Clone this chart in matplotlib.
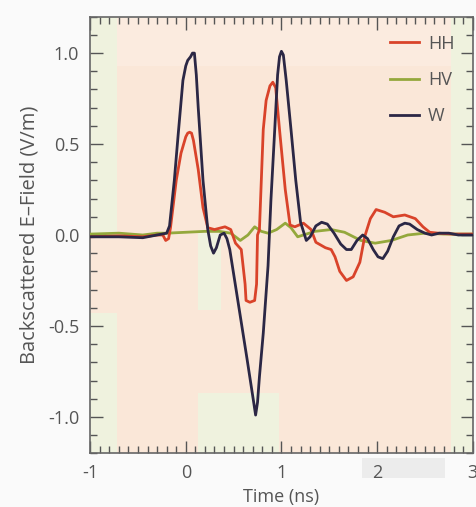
import matplotlib.pyplot as plt
from matplotlib.patches import Rectangle

# time axis (ns) and backscattered field (V/m)
w_t = [-1.0, -0.7, -0.45, -0.3, -0.2, -0.17, -0.12, -0.08, -0.03, 0.0, 0.02, 0.05, 0.07,
       0.09, 0.11, 0.13, 0.18, 0.23, 0.26, 0.29, 0.32, 0.36, 0.40, 0.43, 0.46, 0.55, 0.64,
       0.71, 0.73, 0.75, 0.77, 0.81, 0.86, 0.89, 0.93, 0.96, 0.98, 1.0, 1.02, 1.05, 1.10,
       1.15, 1.20, 1.26, 1.30, 1.36, 1.42, 1.48, 1.55, 1.62, 1.68, 1.73, 1.79, 1.85, 1.90,
       1.96, 2.01, 2.06, 2.11, 2.17, 2.23, 2.29, 2.34, 2.42, 2.50, 2.57, 2.65, 2.75, 2.85,
       3.0]
w_v = [-0.01, -0.01, -0.015, 0.0, 0.01, 0.05, 0.30, 0.55, 0.85, 0.93, 0.96, 0.98, 1.0,
       1.0, 0.88, 0.70, 0.30, 0.03, -0.06, -0.10, -0.07, 0.0, 0.01, -0.02, -0.08, -0.38, -0.68,
       -0.92, -0.99, -0.92, -0.78, -0.54, -0.17, 0.19, 0.58, 0.88, 0.98, 1.01, 0.99, 0.85, 0.58,
       0.30, 0.07, -0.03, -0.01, 0.05, 0.07, 0.06, 0.01, -0.05, -0.08, -0.08, -0.03, 0.0, -0.02,
       -0.08, -0.12, -0.13, -0.09, -0.01, 0.05, 0.065, 0.06, 0.03, 0.01, 0.0, 0.01, 0.01, 0.0,
       0.0]

hh_t = [-1.0, -0.7, -0.45, -0.3, -0.24, -0.21, -0.18, -0.16, -0.10, -0.05, 0.0, 0.02,
        0.04, 0.06, 0.08, 0.13, 0.18, 0.23, 0.30, 0.41, 0.47, 0.52, 0.58, 0.62, 0.63, 0.67,
        0.72, 0.74, 0.75, 0.77, 0.81, 0.84, 0.88, 0.91, 0.94, 0.98, 1.04, 1.09, 1.14, 1.23,
        1.31, 1.36, 1.46, 1.52, 1.56, 1.61, 1.68, 1.75, 1.82, 1.87, 1.93, 1.99, 2.08, 2.17,
        2.29, 2.40, 2.48, 2.55, 2.64, 2.8, 3.0]
hh_v = [-0.01, -0.005, -0.01, 0.0, 0.0, -0.03, -0.02, 0.04, 0.30, 0.45, 0.54, 0.56,
        0.565, 0.56, 0.52, 0.36, 0.15, 0.04, 0.03, 0.045, 0.03, -0.045, -0.08, -0.27, -0.36, -0.37,
        -0.36, -0.27, 0.0, 0.03, 0.58, 0.74, 0.82, 0.84, 0.81, 0.58, 0.25, 0.055, 0.045, 0.065,
        0.03, -0.04, -0.07, -0.08, -0.12, -0.20, -0.25, -0.23, -0.15, -0.01, 0.09, 0.14, 0.125,
        0.10, 0.11, 0.09, 0.045, 0.015, 0.01, 0.005, 0.005]

hv_t = [-1.0, -0.7, -0.45, -0.3, -0.2, 0.0, 0.2, 0.35, 0.47, 0.57, 0.65, 0.72, 0.79,
        0.86, 0.95, 1.04, 1.10, 1.17, 1.35, 1.52, 1.66, 1.83, 1.98, 2.15, 2.32, 2.50,
        2.7, 3.0]
hv_v = [0.005, 0.01, 0.0, 0.01, 0.01, 0.015, 0.02, 0.02, 0.01, -0.03, 0.0, 0.045, 0.02,
        0.01, 0.03, 0.065, 0.04, -0.01, 0.02, 0.03, 0.015, -0.03, -0.045, -0.03, 0.0, 0.01,
        0.005, 0.005]

plt.rcParams['font.family'] = ['Open Sans', 'DejaVu Sans']
plt.rcParams['axes.unicode_minus'] = False

fig = plt.figure(figsize=(4.77, 5.07), dpi=100, facecolor='#fafafa')
ax = fig.add_axes([0.189, 0.106, 0.802, 0.861])
ax.set_facecolor('#fae7d8')

green = '#eff2de'
# blotchy background patches
for (x0, y0, w, h, c) in [(-0.72, 0.93, 3.49, 0.27, '#fbebdf'),
                          (-1.0, 0.0, 0.28, 1.2, green),
                          (-1.0, -1.2, 0.28, 0.77, green),
                          (2.77, -1.2, 0.23, 2.4, green),
                          (0.13, -0.41, 0.24, 0.42, green),
                          (0.13, -1.2, 0.84, 0.33, green)]:
    ax.add_patch(Rectangle((x0, y0), w, h, facecolor=c, edgecolor='none', zorder=0))

ax.plot(hv_t, hv_v, color='#94a83c', lw=2.0, label='HV', zorder=3)
ax.plot(hh_t, hh_v, color='#d9432a', lw=2.0, label='HH', zorder=4)
ax.plot(w_t, w_v, color='#2b2745', lw=2.0, label='W', zorder=5)

ax.set_xlim(-1, 3)
ax.set_ylim(-1.2, 1.2)
ax.set_xticks([-1, 0, 1, 2, 3])
ax.set_xticklabels(['-1', '0', '1', '2', '3'])
ax.set_yticks([-1.0, -0.5, 0.0, 0.5, 1.0])
ax.set_yticklabels(['-1.0', '-0.5', '0.0', '0.5', '1.0'])
ax.set_xticks([i / 10 for i in range(-10, 31)], minor=True)
ax.set_yticks([i / 10 for i in range(-12, 13)], minor=True)
ax.tick_params(which='both', direction='in', top=True, right=True, colors='#555555',
               labelcolor='#555555', labelsize=13, width=1.0)
ax.tick_params(which='major', length=9, pad=8)
ax.tick_params(which='minor', length=5)
for s in ax.spines.values():
    s.set_color('#666666')
    s.set_linewidth(1.2)

ax.set_xlabel('Time (ns)', fontsize=13, color='#555555', labelpad=4)
ax.set_ylabel('Backscattered E\u2013Field (V/m)', fontsize=14.5, color='#555555', labelpad=6)

handles, labels = ax.get_legend_handles_labels()
order = [1, 0, 2]
ax.legend([handles[i] for i in order], [labels[i] for i in order], loc='upper right',
          frameon=False, fontsize=13, labelcolor='#555555', handlelength=1.6,
          handletextpad=0.5, labelspacing=1.0, borderaxespad=0.6)

fig.patches.append(Rectangle((362 / 477, 1 - 478 / 507), 83 / 477, 20 / 507,
                             transform=fig.transFigure, facecolor='#ececec',
                             edgecolor='none', zorder=-1))

fig.savefig('out.png', dpi=100, facecolor=fig.get_facecolor())
